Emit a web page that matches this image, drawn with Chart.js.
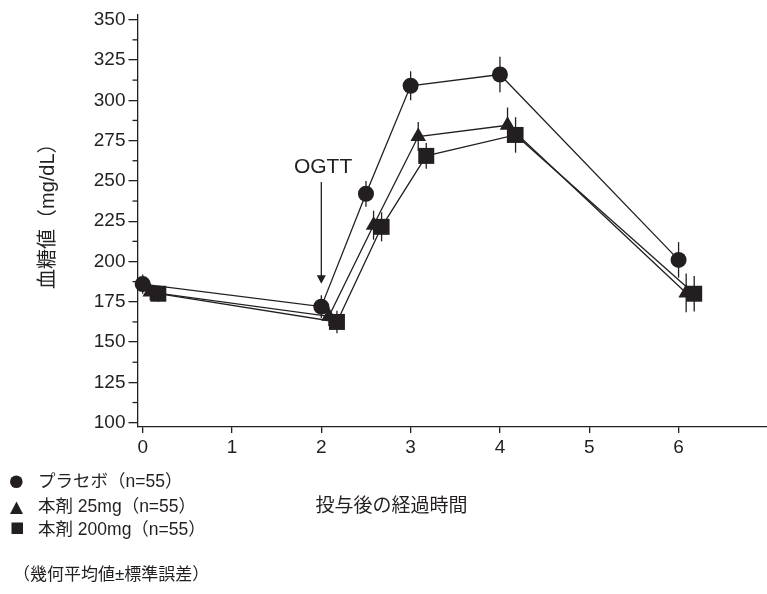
<!DOCTYPE html>
<html><head><meta charset="utf-8">
<script src="https://cdn.jsdelivr.net/npm/chart.js@4.4.0/dist/chart.umd.min.js"></script>
<style>html,body{margin:0;padding:0;background:#fff}canvas{display:block}</style>
</head><body>
<canvas id="c" width="767" height="594"></canvas>
<script>
// ---- data ----
const times = [0, 2, 2.5, 3, 4, 6];
const placebo = [186, 172, 242, 309, 316, 201];
const dose25 = [181, 166, 222.5, 277.5, 284.5, 180.5];
const dose200 = [180, 162.5, 221.5, 265.5, 278.5, 180];
const sePlacebo = [6, 7, 8, 9, 11, 11];
const se25 = [5, 6, 9, 9, 11, 12];
const se200 = [5, 7, 9, 8, 11, 11];
const seriesLabels = ['プラセボ（n=55）', '本剤 25mg（n=55）', '本剤 200mg（n=55）'];
const xTicks = [0, 1, 2, 3, 4, 5, 6];
const yTicks = [100, 125, 150, 175, 200, 225, 250, 275, 300, 325, 350];
const yMinor = [112.5, 137.5, 162.5, 187.5, 212.5, 237.5, 262.5, 287.5, 312.5, 337.5];
const yTitle = '血糖値（mg/dL）';
const xTitle = '投与後の経過時間';
const footnote = '（幾何平均値±標準誤差）';
const ogttLabel = 'OGTT';
const ogttTime = 2;

// ---- style ----
const INK = '#231f20';
const LAT = '"Liberation Sans", Arial, "Noto Sans CJK JP", sans-serif';
const dodge = [0, 0.085, 0.175];
function pts(vals, k) { return times.map((t, i) => ({ x: t + dodge[k], y: vals[i] })); }

function ds(label, vals, se, k, style, r) {
  return {
    label, data: pts(vals, k), se,
    borderColor: INK, backgroundColor: INK, borderWidth: 1.3,
    pointStyle: style, pointRadius: r, pointHoverRadius: r,
    pointBackgroundColor: INK, pointBorderColor: INK, pointBorderWidth: 0,
    tension: 0, fill: false, clip: false
  };
}

const extras = {
  id: 'extras',
  beforeDatasetsDraw(chart) {
    const ctx = chart.ctx, ys = chart.scales.y;
    ctx.save();
    ctx.strokeStyle = INK; ctx.lineWidth = 1.3;
    chart.data.datasets.forEach((d, di) => {
      const meta = chart.getDatasetMeta(di);
      meta.data.forEach((p, i) => {
        const v = d.data[i].y, e = d.se[i];
        ctx.beginPath();
        ctx.moveTo(p.x, ys.getPixelForValue(v + e));
        ctx.lineTo(p.x, ys.getPixelForValue(v - e));
        ctx.stroke();
      });
    });
    ctx.restore();
  },
  afterDraw(chart) {
    const ctx = chart.ctx, xs = chart.scales.x, ys = chart.scales.y, ca = chart.chartArea;
    ctx.save();
    ctx.strokeStyle = INK; ctx.fillStyle = INK; ctx.lineWidth = 1.3;
    // minor y ticks
    yMinor.forEach(v => {
      const y = ys.getPixelForValue(v);
      ctx.beginPath(); ctx.moveTo(ca.left - 5, y); ctx.lineTo(ca.left, y); ctx.stroke();
    });
    // OGTT arrow
    const ax = xs.getPixelForValue(ogttTime);
    const top = ys.getPixelForValue(249.3), tip = ys.getPixelForValue(186.2);
    ctx.beginPath(); ctx.moveTo(ax, top); ctx.lineTo(ax, tip - 6); ctx.stroke();
    ctx.beginPath(); ctx.moveTo(ax - 4.5, tip - 8.5); ctx.lineTo(ax + 4.5, tip - 8.5); ctx.lineTo(ax, tip); ctx.closePath(); ctx.fill();
    ctx.font = '21px ' + LAT; ctx.textAlign = 'center'; ctx.textBaseline = 'middle';
    ctx.fillText(ogttLabel, xs.getPixelForValue(2.02), ys.getPixelForValue(258.6));
    // y title
    ctx.save();
    ctx.translate(48, 289); ctx.rotate(-Math.PI / 2);
    ctx.font = '20px ' + LAT; ctx.textAlign = 'left'; ctx.textBaseline = 'middle';
    ctx.fillText(yTitle, 0, 0);
    ctx.restore();
    // x title
    ctx.font = '19px "Noto Sans CJK JP", sans-serif'; ctx.textAlign = 'left'; ctx.textBaseline = 'middle';
    ctx.fillText(xTitle, 315.5, 505);
    // legend
    ctx.font = '17.5px ' + LAT;
    const rows = [482.5, 506.7, 530];
    seriesLabels.forEach((t, i) => ctx.fillText(t, 38, rows[i]));
    ctx.beginPath(); ctx.arc(16.3, 481.7, 6.3, 0, Math.PI * 2); ctx.fill();
    ctx.beginPath(); ctx.moveTo(10, 514); ctx.lineTo(23, 514); ctx.lineTo(16.5, 501.5); ctx.closePath(); ctx.fill();
    ctx.fillRect(11.5, 522.5, 11.5, 11.5);
    // footnote
    ctx.font = '17px ' + LAT;
    ctx.fillText(footnote, 13, 575);
    ctx.restore();
  }
};

new Chart(document.getElementById('c'), {
  type: 'line',
  data: {
    datasets: [
      ds(seriesLabels[0], placebo, sePlacebo, 0, 'circle', 8),
      ds(seriesLabels[1], dose25, se25, 1, 'triangle', 9),
      ds(seriesLabels[2], dose200, se200, 2, 'rect', 11.3)
    ]
  },
  options: {
    responsive: false, animation: false,
    layout: { autoPadding: false, padding: { top: 15, left: 0, right: 0, bottom: 0 } },
    plugins: { legend: { display: false }, tooltip: { enabled: false } },
    events: [],
    scales: {
      x: {
        type: 'linear', min: -0.058, max: 6.99,
        afterBuildTicks: s => { s.ticks = xTicks.map(v => ({ value: v })); },
        afterFit: s => { s.height = 167; s.paddingLeft = 0; s.paddingRight = 0; },
        grid: { display: true, drawOnChartArea: false, drawTicks: true, tickLength: 6, color: INK, lineWidth: 1.3 },
        border: { display: true, color: INK, width: 1.3 },
        ticks: { font: { family: LAT, size: 19 }, color: INK, padding: 3, maxRotation: 0, autoSkip: false }
      },
      y: {
        type: 'linear', min: 97.33, max: 352.9,
        afterBuildTicks: s => { s.ticks = yTicks.map(v => ({ value: v })); },
        afterFit: s => { s.width = 137.5; s.paddingTop = 0; s.paddingBottom = 0; },
        grid: { display: true, drawOnChartArea: false, drawTicks: true, tickLength: 9, color: INK, lineWidth: 1.3 },
        border: { display: true, color: INK, width: 1.3 },
        ticks: { font: { family: LAT, size: 19 }, color: INK, padding: 3, autoSkip: false }
      }
    }
  },
  plugins: [extras]
});
</script>
</body></html>
